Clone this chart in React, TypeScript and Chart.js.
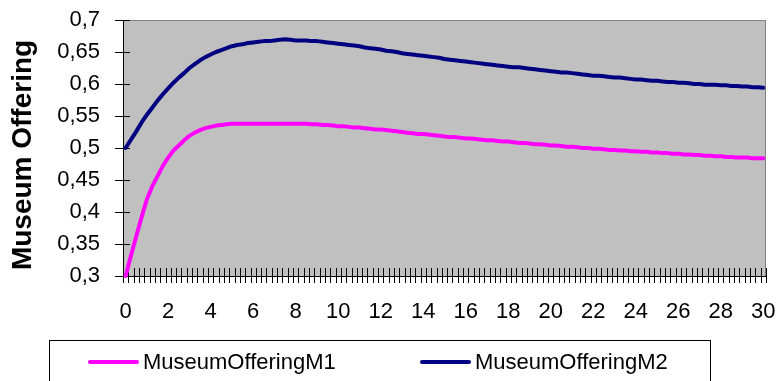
import { useEffect, useRef } from "react";
import { Chart, registerables } from "chart.js";

Chart.register(...registerables);

const FONT = '"Liberation Sans", Arial, Helvetica, sans-serif';

// Time axis: 0 … 30 in quarter steps
const TIME: number[] = Array.from({ length: 121 }, (_, i) => i / 4);

// Labelled time ticks (every 2 units)
const X_TICK_LABELS = ["0", "2", "4", "6", "8", "10", "12", "14", "16", "18", "20", "22", "24", "26", "28", "30"];

const Y_MIN = 0.3;
const Y_MAX = 0.7;
const Y_STEP = 0.05;

const SERIES_NAMES = ["MuseumOfferingM1", "MuseumOfferingM2"];
const SERIES_COLORS = ["#FF00FF", "#000080"];

const M1: number[] = [
  0.300, 0.332, 0.362, 0.392, 0.420, 0.440, 0.456, 0.472, 0.485, 0.496, 0.504, 0.512,
  0.519, 0.524, 0.528, 0.531, 0.533, 0.535, 0.536, 0.537, 0.538, 0.538, 0.538, 0.538,
  0.538, 0.538, 0.538, 0.538, 0.538, 0.538, 0.538, 0.538, 0.538, 0.538, 0.538, 0.537,
  0.537, 0.536, 0.536, 0.535, 0.534, 0.534, 0.533, 0.532, 0.532, 0.531, 0.530, 0.529,
  0.529, 0.528, 0.527, 0.526, 0.525, 0.524, 0.523, 0.522, 0.522, 0.521, 0.520, 0.519,
  0.518, 0.517, 0.517, 0.516, 0.515, 0.515, 0.514, 0.513, 0.512, 0.512, 0.511, 0.510,
  0.510, 0.509, 0.508, 0.508, 0.507, 0.506, 0.506, 0.505, 0.504, 0.504, 0.503, 0.502,
  0.502, 0.501, 0.500, 0.500, 0.499, 0.499, 0.498, 0.497, 0.497, 0.496, 0.496, 0.495,
  0.495, 0.494, 0.494, 0.493, 0.493, 0.492, 0.492, 0.491, 0.491, 0.490, 0.490, 0.489,
  0.489, 0.488, 0.488, 0.487, 0.487, 0.486, 0.486, 0.485, 0.485, 0.485, 0.484, 0.484,
  0.484,
];

const M2: number[] = [
  0.500, 0.513, 0.526, 0.540, 0.552, 0.563, 0.574, 0.584, 0.593, 0.602, 0.610, 0.617,
  0.625, 0.631, 0.637, 0.642, 0.646, 0.650, 0.653, 0.656, 0.659, 0.661, 0.662, 0.664,
  0.665, 0.666, 0.667, 0.667, 0.668, 0.669, 0.670, 0.669, 0.668, 0.668, 0.668, 0.667,
  0.667, 0.666, 0.665, 0.664, 0.663, 0.662, 0.661, 0.660, 0.659, 0.657, 0.656, 0.655,
  0.654, 0.652, 0.651, 0.650, 0.648, 0.647, 0.646, 0.645, 0.644, 0.643, 0.642, 0.641,
  0.639, 0.638, 0.637, 0.636, 0.635, 0.634, 0.633, 0.632, 0.631, 0.630, 0.629, 0.628,
  0.627, 0.626, 0.626, 0.625, 0.624, 0.623, 0.622, 0.621, 0.620, 0.619, 0.618, 0.618,
  0.617, 0.616, 0.615, 0.614, 0.613, 0.613, 0.612, 0.611, 0.610, 0.610, 0.609, 0.608,
  0.607, 0.607, 0.606, 0.605, 0.605, 0.604, 0.603, 0.603, 0.602, 0.602, 0.601, 0.600,
  0.600, 0.599, 0.599, 0.599, 0.598, 0.598, 0.597, 0.597, 0.596, 0.596, 0.595, 0.595,
  0.594,
];

const SERIES = [M1, M2];

const formatY = (v: number) => v.toFixed(2).replace(/0$/, "").replace(".", ",");

// Grey plot area, cross tick marks, axes and frame
const plotFrame = {
  id: "plotFrame",
  beforeDatasetsDraw(chart: any) {
    const { ctx, chartArea: a, scales } = chart;
    const xs = scales.x;
    const ys = scales.y;
    ctx.save();
    ctx.fillStyle = "#C0C0C0";
    ctx.fillRect(a.left, a.top, a.right - a.left, a.bottom - a.top);

    // top and right border
    ctx.strokeStyle = "#808080";
    ctx.lineWidth = 1;
    ctx.beginPath();
    ctx.moveTo(a.left, a.top + 0.5);
    ctx.lineTo(a.right - 0.5, a.top + 0.5);
    ctx.lineTo(a.right - 0.5, a.bottom);
    ctx.stroke();

    ctx.strokeStyle = "#000000";
    // y tick marks
    ctx.beginPath();
    const nY = Math.round((Y_MAX - Y_MIN) / Y_STEP);
    for (let i = 0; i <= nY; i++) {
      const y = Math.round(ys.getPixelForValue(Y_MIN + i * Y_STEP)) + 0.5;
      ctx.moveTo(a.left - 8, y);
      ctx.lineTo(a.left + 7, y);
    }
    ctx.stroke();

    // x tick marks at category boundaries
    const n = TIME.length;
    const slot = (a.right - a.left) / n;
    ctx.beginPath();
    for (let i = 0; i <= n; i++) {
      const x = Math.round(xs.getPixelForValue(0) - slot / 2 + i * slot) + 0.5;
      ctx.moveTo(x, a.bottom - 8);
      ctx.lineTo(x, a.bottom + 7);
    }
    ctx.stroke();

    // axes
    ctx.beginPath();
    ctx.moveTo(a.left + 0.5, a.top);
    ctx.lineTo(a.left + 0.5, a.bottom);
    ctx.moveTo(a.left, a.bottom + 0.5);
    ctx.lineTo(a.right, a.bottom + 0.5);
    ctx.stroke();
    ctx.restore();
  },
  afterDraw(chart: any) {
    const { ctx, chartArea: a } = chart;
    ctx.save();

    // y-axis title
    ctx.translate(23, (a.top + a.bottom) / 2 + 7);
    ctx.rotate(-Math.PI / 2);
    ctx.font = `bold 28px ${FONT}`;
    ctx.fillStyle = "#000";
    ctx.textAlign = "center";
    ctx.textBaseline = "middle";
    ctx.fillText("Museum Offering", 0, 0);
    ctx.restore();

    // legend box
    ctx.save();
    ctx.strokeStyle = "#000";
    ctx.lineWidth = 1;
    ctx.strokeRect(49.5, 340.5, 661, 60);
    const starts = [90, 422];
    ctx.font = `22px ${FONT}`;
    ctx.textBaseline = "middle";
    ctx.textAlign = "left";
    chart.data.datasets.forEach((ds: any, i: number) => {
      const x0 = starts[i];
      const y = 362;
      ctx.strokeStyle = ds.borderColor;
      ctx.lineWidth = 4;
      ctx.lineCap = "round";
      ctx.beginPath();
      ctx.moveTo(x0, y);
      ctx.lineTo(x0 + 47, y);
      ctx.stroke();
      ctx.fillStyle = "#000";
      ctx.fillText(ds.label, x0 + 53, y + 1);
    });
    ctx.restore();
  },
};

export default function App() {
  const ref = useRef<HTMLCanvasElement | null>(null);

  useEffect(() => {
    const canvas = ref.current;
    if (!canvas) return;
    const chart = new Chart(canvas, {
      type: "line",
      data: {
        labels: TIME.map(String),
        datasets: SERIES.map((s, i) => ({
          label: SERIES_NAMES[i],
          data: s,
          borderColor: SERIES_COLORS[i],
          backgroundColor: SERIES_COLORS[i],
          borderWidth: 4,
          pointRadius: 0,
          tension: 0,
          borderJoinStyle: "round" as const,
          borderCapStyle: "round" as const,
          clip: 4,
        })),
      },
      options: {
        responsive: false,
        animation: false,
        devicePixelRatio: 1,
        layout: { padding: { left: 0, top: 20, right: 12, bottom: 0 } },
        plugins: {
          legend: { display: false },
          tooltip: { enabled: false },
        },
        scales: {
          x: {
            type: "category",
            offset: true,
            grid: { display: false, drawTicks: false },
            border: { display: false },
            ticks: {
              autoSkip: false,
              maxRotation: 0,
              minRotation: 0,
              padding: 23,
              color: "#000",
              font: { family: FONT, size: 22 },
              callback: (_v: any, i: number) => (i % 8 === 0 ? X_TICK_LABELS[i / 8] : ""),
            },
            afterFit: (s: any) => {
              s.height = 105;
              s.paddingLeft = 0;
              s.paddingRight = 0;
            },
          },
          y: {
            min: Y_MIN,
            max: Y_MAX,
            grid: { display: false, drawTicks: false },
            border: { display: false },
            ticks: {
              stepSize: Y_STEP,
              padding: 23,
              color: "#000",
              font: { family: FONT, size: 22 },
              callback: (v: any) => formatY(Number(v)),
            },
            afterFit: (s: any) => {
              s.width = 123;
              s.paddingTop = 0;
              s.paddingBottom = 0;
            },
          },
        },
      },
      plugins: [plotFrame],
    });
    return () => chart.destroy();
  }, []);

  return (
    <div style={{ position: "absolute", left: 0, top: 0, width: 778, height: 381, background: "#fff" }}>
      <canvas ref={ref} width={778} height={381} style={{ display: "block" }} />
    </div>
  );
}
